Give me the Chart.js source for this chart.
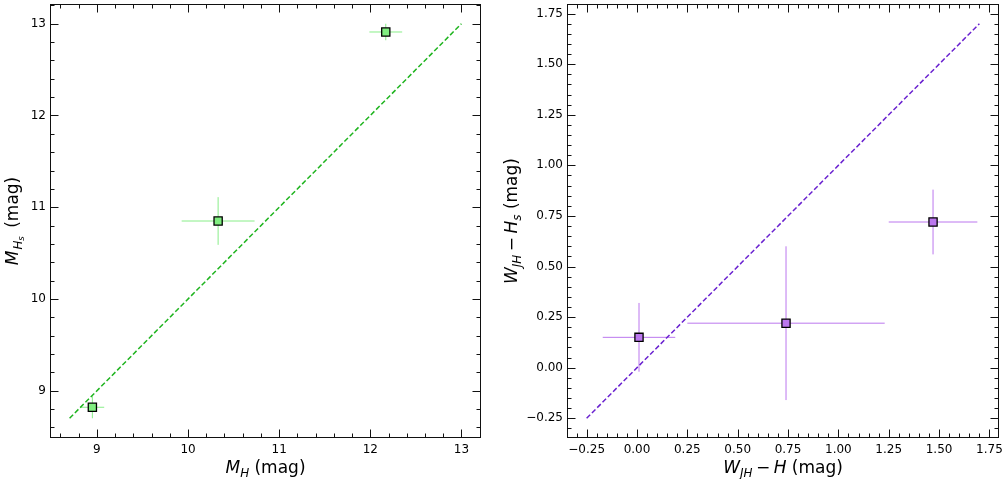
<!DOCTYPE html>
<html><head><meta charset="utf-8">
<script src="https://cdn.jsdelivr.net/npm/chart.js@4/dist/chart.umd.min.js"></script>
<style>
html,body{margin:0;padding:0;background:#fff;width:1005px;height:479px;overflow:hidden}
canvas{position:absolute;top:0}
#c1{left:0}#c2{left:500px}
</style></head>
<body>
<canvas id="c1" width="500" height="479"></canvas>
<canvas id="c2" width="505" height="479"></canvas>
<script>
// ---- Left panel data ----
const leftX    = [8.95, 10.33, 12.17];
const leftY    = [8.82, 10.85, 12.91];
const leftXErr = [0.13, 0.40, 0.18];
const leftYErr = [0.12, 0.26, 0.09];
const leftLine = [8.7, 13.0];
const leftTicks = [9, 10, 11, 12, 13];
const leftTickLabels = ['9', '10', '11', '12', '13'];

// ---- Right panel data ----
const rightX    = [0.01, 0.74, 1.47];
const rightY    = [0.15, 0.22, 0.72];
const rightXErr = [0.18, 0.49, 0.22];
const rightYErr = [0.17, 0.38, 0.16];
const rightLine = [-0.25, 1.70];
const rightTicks = [-0.25, 0, 0.25, 0.5, 0.75, 1.0, 1.25, 1.5, 1.75];
const rightTickLabels = ['\u22120.25', '0.00', '0.25', '0.50', '0.75', '1.00', '1.25', '1.50', '1.75'];

const FONT = '"DejaVu Sans", "Liberation Sans", sans-serif';
if (Chart.defaults.plugins.colors) Chart.defaults.plugins.colors.enabled = false;

function richText(ctx, segs, cx, cy, rot, size) {
  ctx.save();
  ctx.translate(cx, cy);
  if (rot) ctx.rotate(-Math.PI / 2);
  const items = segs.map(s => {
    if (s.gap) return { t: '', font: null, w: s.gap, dy: 0 };
    const lvl = s.lvl || 0;
    const fs = lvl === 2 ? size * 0.5 : lvl === 1 ? size * 0.7 : size;
    const font = (s.i ? 'italic ' : '') + fs.toFixed(2) + 'px ' + FONT;
    ctx.font = font;
    return { t: s.t, font, w: ctx.measureText(s.t).width + (s.after || 0), dy: lvl === 2 ? size * 0.36 : lvl === 1 ? size * 0.22 : 0 };
  });
  const tot = items.reduce((a, b) => a + b.w, 0);
  let xx = -tot / 2;
  ctx.textBaseline = 'alphabetic';
  ctx.textAlign = 'left';
  ctx.fillStyle = '#000';
  for (const it of items) {
    if (it.font) { ctx.font = it.font; ctx.fillText(it.t, xx, it.dy); }
    xx += it.w;
  }
  ctx.restore();
}

const frameTicks = {
  id: 'frameTicks',
  afterDraw(chart, args, opts) {
    const { ctx, chartArea: a, scales: { x, y } } = chart;
    ctx.save();
    ctx.strokeStyle = '#111';
    ctx.lineWidth = 1;
    ctx.setLineDash([]);
    const L = Math.round(a.left) + 0.5, R = Math.round(a.right) - 0.5;
    const T = Math.round(a.top) + 0.5, B = Math.round(a.bottom) - 0.5;
    ctx.strokeRect(L, T, R - L, B - T);
    const minorList = (min, max, step, majors) => {
      const out = [];
      const k0 = Math.ceil(min / step - 1e-9), k1 = Math.floor(max / step + 1e-9);
      for (let k = k0; k <= k1; k++) {
        const v = k * step;
        if (!majors.some(m => Math.abs(m - v) < step / 10)) out.push(v);
      }
      return out;
    };
    const drawX = (vals, len) => {
      ctx.beginPath();
      for (const v of vals) {
        const p = Math.round(x.getPixelForValue(v)) + 0.5;
        if (p < L || p > R) continue;
        ctx.moveTo(p, B); ctx.lineTo(p, B - len);
        ctx.moveTo(p, T); ctx.lineTo(p, T + len);
      }
      ctx.stroke();
    };
    const drawY = (vals, len) => {
      ctx.beginPath();
      for (const v of vals) {
        const p = Math.round(y.getPixelForValue(v)) + 0.5;
        if (p < T || p > B) continue;
        ctx.moveTo(L, p); ctx.lineTo(L + len, p);
        ctx.moveTo(R, p); ctx.lineTo(R - len, p);
      }
      ctx.stroke();
    };
    drawX(opts.majors, 8);
    drawY(opts.majors, 8);
    drawX(minorList(x.min, x.max, opts.minor, opts.majors), 4);
    drawY(minorList(y.min, y.max, opts.minor, opts.majors), 4);
    ctx.restore();
    const cx = (a.left + a.right) / 2, cy = (a.top + a.bottom) / 2;
    richText(ctx, opts.xTitle, cx, 473, false, 17);
    richText(ctx, opts.yTitle, opts.yTitleX, cy, true, 17);
  }
};

function buildDatasets(xs, ys, xe, ye, line, fill, errColor, lineColor) {
  const ds = [];
  ds.push({
    data: xs.map((v, i) => ({ x: v, y: ys[i] })),
    pointStyle: 'rect', pointRadius: 5.8, pointHoverRadius: 5.8,
    backgroundColor: fill, borderColor: '#000', borderWidth: 1.3,
    pointBackgroundColor: fill, pointBorderColor: '#000',
    pointHoverBackgroundColor: fill, pointHoverBorderColor: '#000',
    showLine: false, order: 0
  });
  ds.push({
    data: [{ x: line[0], y: line[0] }, { x: line[1], y: line[1] }],
    showLine: true, borderColor: lineColor, backgroundColor: lineColor, hoverBorderColor: lineColor,
    borderWidth: 1.5, borderDash: [5, 2.5],
    pointRadius: 0, pointHoverRadius: 0, fill: false, order: 1
  });
  xs.forEach((v, i) => {
    ds.push({
      data: [{ x: v - xe[i], y: ys[i] }, { x: v + xe[i], y: ys[i] }],
      showLine: true, borderColor: errColor, backgroundColor: errColor, hoverBorderColor: errColor,
      borderWidth: 1, pointRadius: 0, pointHoverRadius: 0, fill: false, order: 2
    });
    ds.push({
      data: [{ x: v, y: ys[i] - ye[i] }, { x: v, y: ys[i] + ye[i] }],
      showLine: true, borderColor: errColor, backgroundColor: errColor, hoverBorderColor: errColor,
      borderWidth: 1, pointRadius: 0, pointHoverRadius: 0, fill: false, order: 2
    });
  });
  return ds;
}

function makeChart(id, cfg) {
  const tickCb = (vals, labels) => function (value) {
    const i = vals.findIndex(v => Math.abs(v - value) < 1e-6);
    return i >= 0 ? labels[i] : '';
  };
  const setTicks = vals => scale => { scale.ticks = vals.map(v => ({ value: v })); };
  return new Chart(document.getElementById(id), {
    type: 'scatter',
    data: { datasets: cfg.datasets },
    options: {
      responsive: false, animation: false, devicePixelRatio: 1,
      events: [],
      layout: { padding: cfg.padding, autoPadding: false },
      plugins: {
        legend: { display: false }, tooltip: { enabled: false },
        frameTicks: cfg.frame
      },
      scales: {
        x: {
          type: 'linear', min: cfg.min, max: cfg.max,
          grid: { display: false, drawTicks: false }, border: { display: false },
          afterBuildTicks: setTicks(cfg.ticks),
          afterFit: s => { s.height = 41; s.paddingLeft = 0; s.paddingRight = 0; },
          ticks: { autoSkip: false, maxRotation: 0, padding: 5, color: '#000',
            font: { family: FONT, size: 12 }, callback: tickCb(cfg.ticks, cfg.labels) }
        },
        y: {
          type: 'linear', min: cfg.min, max: cfg.max,
          grid: { display: false, drawTicks: false }, border: { display: false },
          afterBuildTicks: setTicks(cfg.ticks),
          afterFit: s => { s.width = cfg.yWidth; s.paddingTop = 0; s.paddingBottom = 0; },
          ticks: { autoSkip: false, padding: 4, color: '#000',
            font: { family: FONT, size: 12 }, callback: tickCb(cfg.ticks, cfg.labels) }
        }
      }
    },
    plugins: [frameTicks]
  });
}

makeChart('c1', {
  datasets: buildDatasets(leftX, leftY, leftXErr, leftYErr, leftLine, '#80ee80', '#88ee88', '#1fb41f'),
  min: 8.485, max: 13.215,
  ticks: leftTicks, labels: leftTickLabels,
  padding: { top: 4, right: 19, left: 0, bottom: 0 },
  yWidth: 50,
  frame: {
    majors: leftTicks, minor: 0.2, yTitleX: 18,
    xTitle: [{ t: 'M', i: 1 }, { t: 'H', i: 1, lvl: 1 }, { t: ' (mag)' }],
    yTitle: [{ t: 'M', i: 1, after: 1 }, { t: 'H', i: 1, lvl: 1 }, { t: 's', i: 1, lvl: 2, after: 3 }, { t: ' (mag)' }]
  }
});

makeChart('c2', {
  datasets: buildDatasets(rightX, rightY, rightXErr, rightYErr, rightLine, '#bb77ee', '#bb77ee', '#6a22d0'),
  min: -0.3475, max: 1.7975,
  ticks: rightTicks, labels: rightTickLabels,
  padding: { top: 4, right: 6, left: 0, bottom: 0 },
  yWidth: 67,
  frame: {
    majors: rightTicks, minor: 0.05, yTitleX: 17,
    xTitle: [{ t: 'W', i: 1 }, { t: 'JH', i: 1, lvl: 1 }, { gap: 3.5 }, { t: '\u2212' }, { gap: 3.5 }, { t: 'H', i: 1 }, { t: ' (mag)' }],
    yTitle: [{ t: 'W', i: 1 }, { t: 'JH', i: 1, lvl: 1 }, { gap: 3.5 }, { t: '\u2212' }, { gap: 3.5 }, { t: 'H', i: 1 }, { t: 's', i: 1, lvl: 1 }, { t: ' (mag)' }]
  }
});
</script>
</body></html>
